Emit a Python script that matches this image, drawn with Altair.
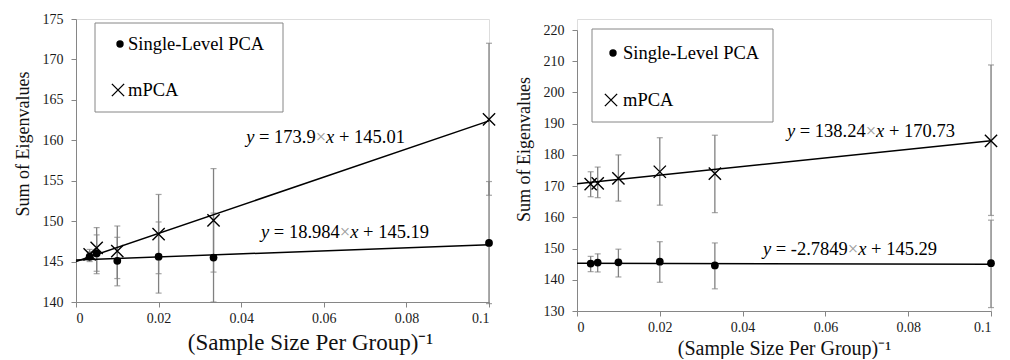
import altair as alt
import pandas as pd

# ---------------- data ----------------
x_vals = [0.0033, 0.005, 0.01, 0.02, 0.0333, 0.1]   # (sample size per group)^-1
series_names = ["Single-Level PCA", "mPCA"]

# left panel
L_single = [145.6, 146.0, 145.1, 145.6, 145.5, 147.3]
L_single_lo = [145.0, 143.5, 142.0, 141.1, 140.0, 139.8]
L_single_hi = [146.2, 148.3, 148.0, 149.9, 151.0, 154.9]
L_mpca = [145.9, 146.7, 146.3, 148.4, 150.1, 162.6]
L_mpca_lo = [145.3, 143.8, 142.9, 143.5, 143.7, 153.2]
L_mpca_hi = [146.5, 149.2, 149.4, 153.3, 156.5, 172.0]
L_slope = [18.984, 173.9]
L_intercept = [145.19, 145.01]
L_eq_coef = ["18.984", "173.9"]
L_eq_const = ["145.19", "145.01"]
L_eq_x = [0.0448, 0.0412]
L_eq_y = [148.65, 160.4]

# right panel
R_single = [145.2, 145.5, 145.6, 145.8, 144.6, 145.3]
R_single_lo = [142.6, 142.5, 140.9, 139.2, 137.1, 131.1]
R_single_hi = [147.5, 148.3, 149.8, 152.2, 151.8, 159.1]
R_mpca = [170.6, 170.9, 172.5, 174.6, 174.0, 184.5]
R_mpca_lo = [166.6, 166.3, 165.2, 163.9, 161.5, 160.6]
R_mpca_hi = [174.6, 176.1, 180.0, 185.5, 186.3, 208.8]
R_slope = [-2.7849, 138.24]
R_intercept = [145.29, 170.73]
R_eq_coef = ["-2.7849", "138.24"]
R_eq_const = ["145.29", "170.73"]
R_eq_x = [0.0449, 0.0507]
R_eq_y = [149.9, 187.65]

x_ticks = [0, 0.02, 0.04, 0.06, 0.08, 0.1]
L_y_ticks = [140, 145, 150, 155, 160, 165, 170, 175]
R_y_ticks = [130, 140, 150, 160, 170, 180, 190, 200, 210, 220]

FONT = "Liberation Serif"
GRAY = "#808080"
AXIS_GRAY = "#868686"
X_SHAPE = "M-1,-1L1,1M-1,1L1,-1"
EQ_SIZE = 18.5

# Times / Liberation Serif advance widths (em) for laying out the equation pieces
TW = {" ": 0.25, "=": 0.564, ".": 0.25, "×": 0.564, "+": 0.564, "-": 0.333,
      "x": 0.444, "y": 0.444}
for d in "0123456789":
    TW[d] = 0.5


def tw(s):
    return sum(TW.get(c, 0.5) for c in s) * EQ_SIZE


def eq_pieces(coefs, consts, xs, ys, plot_w):
    rows = []
    for coef, const, x0, y0 in zip(coefs, consts, xs, ys):
        parts = [("y", "it"), (" = " + coef, "rm"), ("×", "op"), ("x", "it"), (" + " + const, "rm")]
        cur = 0.0
        for txt, kind in parts:
            lead = len(txt) - len(txt.lstrip(" "))
            cur += lead * TW[" "] * EQ_SIZE
            t = txt.strip(" ")
            rows.append({"text": t, "kind": kind, "x": x0 + cur * 0.1 / plot_w, "y": y0})
            cur += tw(t)
    return pd.DataFrame(rows)


def points_df(single, s_lo, s_hi, mpca, m_lo, m_hi):
    rows = []
    for i, xv in enumerate(x_vals):
        rows.append({"x": xv, "y": single[i], "lo": s_lo[i], "hi": s_hi[i], "series": series_names[0]})
        rows.append({"x": xv, "y": mpca[i], "lo": m_lo[i], "hi": m_hi[i], "series": series_names[1]})
    return pd.DataFrame(rows)


def panel(pts, slopes, intercepts, eqs, ydom, yticks, w, h, yrange,
          legend_box, legend_sym_x, legend_txt_x, legend_rows,
          xtitle_size, xtitle_x, xtitle_pad, ytitle_y):
    xs = alt.Scale(domain=[0, 0.1], nice=False, zero=False)
    ys = alt.Scale(domain=ydom, nice=False, zero=False, range=yrange)
    xaxis = alt.Axis(values=x_ticks, format="~g", grid=False, tickSize=5,
                     labelPadding=4, labelFont=FONT, labelFontSize=14, labelOverlap=False,
                     labelColor="#1a1a1a", domainColor=AXIS_GRAY, tickColor=AXIS_GRAY,
                     title="(Sample Size Per Group)⁻¹", titleFont=FONT,
                     titleFontSize=xtitle_size, titleFontWeight="normal",
                     titleColor="#111111", titlePadding=xtitle_pad, titleX=xtitle_x)
    yaxis = alt.Axis(values=yticks, tickCount=len(yticks), grid=False, tickSize=5,
                     labelPadding=8, labelFont=FONT, labelFontSize=14, labelColor="#1a1a1a",
                     labelOverlap=False, labelBound=False,
                     domainColor=AXIS_GRAY, tickColor=AXIS_GRAY,
                     title="Sum of Eigenvalues", titleFont=FONT, titleFontSize=18,
                     titleFontWeight="normal", titleColor="#111111", titlePadding=10,
                     titleY=ytitle_y)
    X = alt.X("x:Q", scale=xs, axis=xaxis)
    Y = alt.Y("lo:Q", scale=ys, axis=yaxis)
    base = alt.Chart(pts)

    err = base.mark_rule(color=GRAY, strokeWidth=1.3).encode(x=X, y=Y, y2="hi:Q")
    cap_lo = base.mark_tick(color=GRAY, orient="horizontal", size=6, thickness=1.2).encode(
        x="x:Q", y=alt.Y("lo:Q", axis=yaxis))
    cap_hi = base.mark_tick(color=GRAY, orient="horizontal", size=6, thickness=1.2).encode(
        x="x:Q", y=alt.Y("hi:Q", axis=yaxis))

    fits = pd.DataFrame({"series": series_names, "slope": slopes, "intercept": intercepts,
                         "x0": [0.0, 0.0], "x1": [0.1, 0.1]})
    fit = alt.Chart(fits).transform_calculate(
        y0="datum.intercept + datum.slope * datum.x0",
        y1="datum.intercept + datum.slope * datum.x1",
    ).mark_rule(color="black", strokeWidth=1.5).encode(
        x="x0:Q", x2="x1:Q", y=alt.Y("y0:Q", axis=yaxis), y2="y1:Q")

    dots = base.transform_filter(alt.datum.series == series_names[0]).mark_point(
        shape="circle", filled=True, color="black", size=60, opacity=1).encode(
        x="x:Q", y=alt.Y("y:Q", axis=yaxis))
    crosses = base.transform_filter(alt.datum.series == series_names[1]).mark_point(
        shape=X_SHAPE, filled=False, color="black", strokeWidth=1.4, size=150, opacity=1
    ).encode(x="x:Q", y=alt.Y("y:Q", axis=yaxis))

    eq_base = alt.Chart(eqs)
    eq_it = eq_base.transform_filter(alt.datum.kind == "it").mark_text(
        font=FONT, fontSize=EQ_SIZE, fontStyle="italic", align="left", baseline="middle",
        color="black").encode(x="x:Q", y=alt.Y("y:Q", axis=yaxis), text="text:N")
    eq_rm = eq_base.transform_filter(alt.datum.kind == "rm").mark_text(
        font=FONT, fontSize=EQ_SIZE, align="left", baseline="middle",
        color="black").encode(x="x:Q", y=alt.Y("y:Q", axis=yaxis), text="text:N")
    eq_op = eq_base.transform_filter(alt.datum.kind == "op").mark_text(
        font=FONT, fontSize=EQ_SIZE, align="left", baseline="middle",
        color="#9a9a9a").encode(x="x:Q", y=alt.Y("y:Q", axis=yaxis), text="text:N")

    one = alt.Data(values=[{"a": 1}])
    bx0, bx1, by0, by1 = legend_box
    box = alt.Chart(one).mark_rect(fillOpacity=0, stroke=AXIS_GRAY, strokeWidth=1).encode(
        x=alt.value(bx0), x2=alt.value(bx1), y=alt.value(by0), y2=alt.value(by1))
    leg_dot = alt.Chart(one).mark_point(shape="circle", filled=True, color="black", size=55,
                                        opacity=1).encode(
        x=alt.value(legend_sym_x), y=alt.value(legend_rows[0]))
    leg_x = alt.Chart(one).mark_point(shape=X_SHAPE, filled=False, color="black",
                                      strokeWidth=1.4, size=150, opacity=1).encode(
        x=alt.value(legend_sym_x - 2), y=alt.value(legend_rows[1]))
    leg_t1 = alt.Chart(alt.Data(values=[{"label": series_names[0]}])).mark_text(
        font=FONT, fontSize=18.5, align="left", baseline="middle", color="black").encode(
        x=alt.value(legend_txt_x), y=alt.value(legend_rows[0]), text="label:N")
    leg_t2 = alt.Chart(alt.Data(values=[{"label": series_names[1]}])).mark_text(
        font=FONT, fontSize=18.5, align="left", baseline="middle", color="black").encode(
        x=alt.value(legend_txt_x), y=alt.value(legend_rows[1]), text="label:N")

    return alt.layer(err, cap_lo, cap_hi, fit, dots, crosses, eq_it, eq_rm, eq_op,
                     box, leg_dot, leg_x, leg_t1, leg_t2).properties(width=w, height=h)


left = panel(points_df(L_single, L_single_lo, L_single_hi, L_mpca, L_mpca_lo, L_mpca_hi),
             L_slope, L_intercept, eq_pieces(L_eq_coef, L_eq_const, L_eq_x, L_eq_y, 413),
             [140, 175], L_y_ticks, 413, 283, [283, 0],
             (19, 207, 4, 93), 44, 52, (25, 71),
             23, 234, 6, 124.5)
right = panel(points_df(R_single, R_single_lo, R_single_hi, R_mpca, R_mpca_lo, R_mpca_hi),
              R_slope, R_intercept, eq_pieces(R_eq_coef, R_eq_const, R_eq_x, R_eq_y, 414),
              [130, 220], R_y_ticks, 414, 292, [292, 11],
              (15, 196, 10, 103), 36, 46, (34, 81),
              20, 207, 4, 130)

chart = alt.hconcat(left, right, spacing=15).properties(
    padding={"left": 5, "top": 3, "right": 0, "bottom": 0}
).configure_view(stroke=None).configure_axis(
    labelOverlap=False
).configure(background="white")

chart.save("out.html", embed_options={"renderer": "svg", "actions": False})
